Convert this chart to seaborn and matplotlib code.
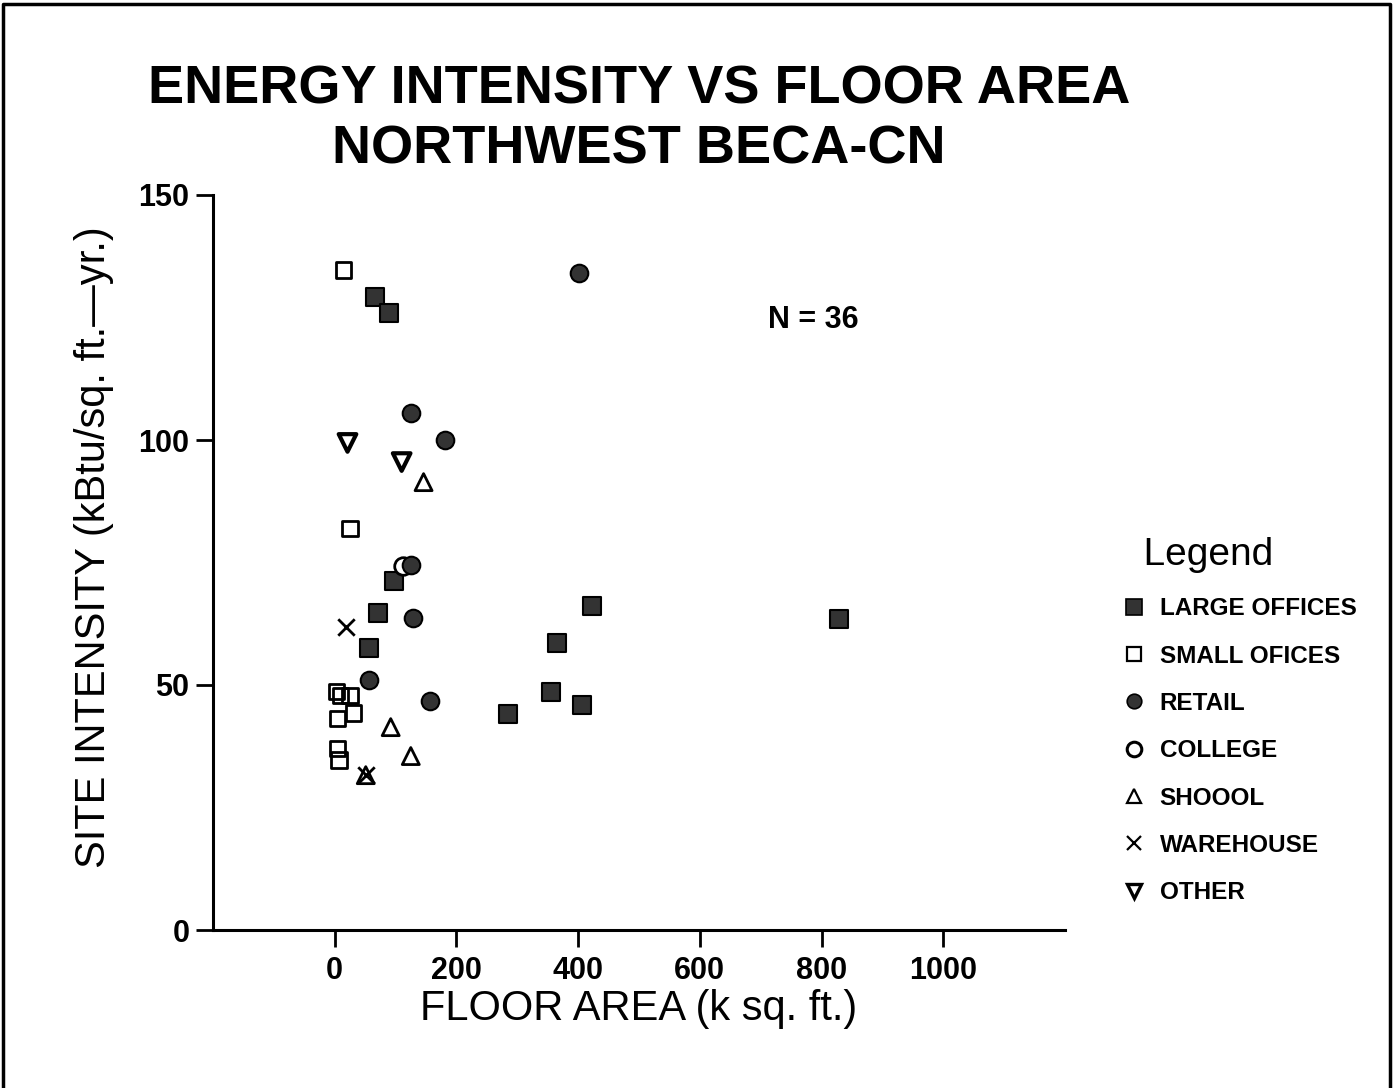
import matplotlib
matplotlib.use("Agg")
import matplotlib.pyplot as plt
import seaborn as sns
from matplotlib.lines import Line2D
from matplotlib import font_manager

# ---------------- data ----------------
large_x = [67, 90, 97, 71, 57, 284, 355, 366, 407, 422, 829]
large_y = [129.2, 125.9, 71.2, 64.7, 57.5, 44.0, 48.6, 58.6, 45.9, 66.1, 63.5]

small_x = [15, 25, 3, 10, 25, 5, 31, 5, 7]
small_y = [134.7, 82.0, 48.6, 47.8, 47.8, 43.1, 44.3, 37.0, 34.7]

retail_x = [401, 126, 181, 126, 128, 56, 156]
retail_y = [134.1, 105.5, 100.0, 74.5, 63.7, 51.0, 46.7]

college_x = [113]
college_y = [74.3]

school_x = [146, 92, 125, 51]
school_y = [91.4, 41.4, 35.5, 31.6]

warehouse_x = [18, 51]
warehouse_y = [61.8, 31.6]

other_x = [21, 110]
other_y = [99.4, 95.5]

x_ticks = [0, 200, 400, 600, 800, 1000]
y_ticks = [0, 50, 100, 150]
legend_labels = ["LARGE OFFICES", "SMALL OFICES", "RETAIL", "COLLEGE",
                 "SHOOOL", "WAREHOUSE", "OTHER"]

# ---------------- style ----------------
sns.set_style("ticks")
plt.rcParams["font.family"] = ["Liberation Sans", "DejaVu Sans"]
plt.rcParams["text.color"] = "black"
plt.rcParams["axes.labelcolor"] = "black"
plt.rcParams["xtick.color"] = "black"
plt.rcParams["ytick.color"] = "black"
plt.rcParams["axes.edgecolor"] = "black"

names = {f.name for f in font_manager.fontManager.ttflist}
if "Liberation Sans Narrow" in names:
    title_family, title_size = ["Liberation Sans Narrow", "DejaVu Sans"], 46
else:
    title_family, title_size = ["Liberation Sans", "DejaVu Sans"], 39

W, H = 1393, 1088
fig = plt.figure(figsize=(W / 100, H / 100), dpi=100)
ax = fig.add_axes([213 / W, 158 / H, 852 / W, 735 / H])

dark = "#333333"

sns.scatterplot(x=large_x, y=large_y, marker="s", s=185, color=dark,
                edgecolor="black", linewidth=1.5, ax=ax, zorder=3)
sns.scatterplot(x=small_x, y=small_y, marker="s", s=120, facecolor="none",
                edgecolor="black", linewidth=2, ax=ax, zorder=3)
sns.scatterplot(x=college_x, y=college_y, marker="o", s=160, facecolor="white",
                edgecolor="black", linewidth=2, ax=ax, zorder=3)
sns.scatterplot(x=retail_x, y=retail_y, marker="o", s=160, color=dark,
                edgecolor="black", linewidth=1.5, ax=ax, zorder=4)
sns.scatterplot(x=school_x, y=school_y, marker="^", s=150, facecolor="none",
                edgecolor="black", linewidth=2, ax=ax, zorder=3)
sns.scatterplot(x=warehouse_x, y=warehouse_y, marker="x", s=140, color="black",
                linewidth=2, ax=ax, zorder=3)
sns.scatterplot(x=other_x, y=other_y, marker="v", s=160, facecolor="none",
                edgecolor="black", linewidth=3, ax=ax, zorder=3)

ax.set_xlim(-200, 1200)
ax.set_ylim(0, 150)
ax.set_xticks(x_ticks, labels=[str(v) for v in x_ticks], fontweight="bold")
ax.set_yticks(y_ticks, labels=[str(v) for v in y_ticks], fontweight="bold")
sns.despine(ax=ax)
for s in ["left", "bottom"]:
    ax.spines[s].set_linewidth(2.2)
    ax.spines[s].set_color("black")
ax.tick_params(axis="both", length=12, width=2, direction="out",
               labelsize=22, colors="black")
ax.tick_params(axis="y", pad=5)
ax.tick_params(axis="x", pad=7)

ax.set_xlabel("FLOOR AREA (k sq. ft.)", fontsize=30, color="black")
ax.set_ylabel("SITE INTENSITY (kBtu/sq. ft.\u2014yr.)", fontsize=30, color="black")
ax.xaxis.set_label_coords(0.5, -0.080)
ax.yaxis.set_label_coords(-0.116, 0.521)

ax.text(0.705, 0.819, "N = 36", transform=ax.transAxes, ha="center",
        va="baseline", fontsize=22, fontweight="bold", color="black")

# titles
fig.text(639 / W, 1 - 103 / H, "ENERGY INTENSITY VS FLOOR AREA", ha="center",
         va="baseline", fontsize=title_size, fontweight="bold",
         family=title_family, color="black")
fig.text(639 / W, 1 - 163 / H, "NORTHWEST BECA-CN", ha="center",
         va="baseline", fontsize=title_size, fontweight="bold",
         family=title_family, color="black")

# legend
handles = [
    Line2D([], [], ls="none", marker="s", ms=11, mfc=dark, mec="black", mew=1.2),
    Line2D([], [], ls="none", marker="s", ms=10, mfc="none", mec="black", mew=1.6),
    Line2D([], [], ls="none", marker="o", ms=10.5, mfc=dark, mec="black", mew=1.2),
    Line2D([], [], ls="none", marker="o", ms=10.5, mfc="none", mec="black", mew=2.2),
    Line2D([], [], ls="none", marker="^", ms=10.5, mfc="none", mec="black", mew=1.6),
    Line2D([], [], ls="none", marker="x", ms=10.5, mec="black", mew=1.6),
    Line2D([], [], ls="none", marker="v", ms=10.5, mfc="none", mec="black", mew=2.4),
]
leg = fig.legend(handles, legend_labels, loc="upper left",
                 bbox_to_anchor=(1122 / W, 1 - 537 / H), bbox_transform=fig.transFigure,
                 frameon=False, borderpad=0, borderaxespad=0,
                 handlelength=1.0, handletextpad=0.55, labelspacing=1.0,
                 prop={"weight": "bold", "size": 17.5},
                 title="  Legend", title_fontproperties={"size": 28},
                 alignment="left")
leg.get_title().set_color("black")
for t in leg.get_texts():
    t.set_color("black")

# page border
fig.add_artist(Line2D([0.002, 0.002, 0.998, 0.998], [0, 0.996, 0.996, 0],
                      transform=fig.transFigure, color="black", lw=2.5))

fig.savefig("out.png", dpi=100)
